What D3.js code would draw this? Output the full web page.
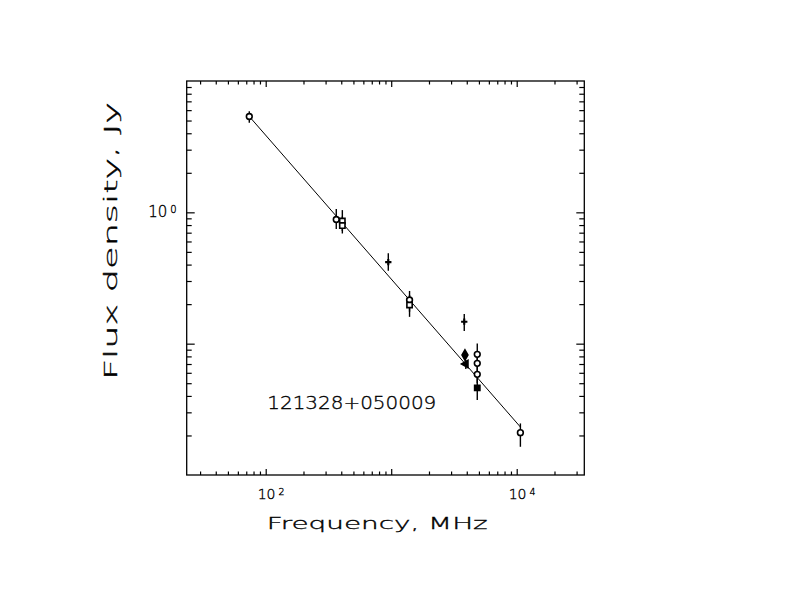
<!DOCTYPE html>
<html>
<head>
<meta charset="utf-8">
<script src="https://cdn.jsdelivr.net/npm/d3@7"></script>
<style>
  body { margin: 0; background: #fff; }
  text { font-family: "DejaVu Sans", sans-serif; font-weight: 200; fill: #000; stroke: #000; stroke-width: 0.35; }
</style>
</head>
<body>
<svg></svg>
<script>
// flux measurements, MHz and Jy
var freq   = [74, 365, 408, 408, 948, 1400, 1400, 3820, 3870, 3930, 4850, 4850, 4850, 4850, 10700];
var flux   = [5.37, 0.882, 0.858, 0.793, 0.418, 0.215, 0.197, 0.147, 0.0819, 0.070, 0.0829, 0.0708, 0.0584, 0.0461, 0.0210];
var fluxLo = [4.81, 0.746, 0.72, 0.69, 0.359, 0.175, 0.160, 0.125, 0.0819, 0.064, 0.072, 0.062, 0.050, 0.0372, 0.0164];
var fluxHi = [5.88, 1.06, 1.04, 0.93, 0.487, 0.252, 0.235, 0.168, 0.0819, 0.075, 0.1005, 0.080, 0.068, 0.055, 0.0247];
var marker = ['circle', 'circle', 'square', 'square', 'plus', 'circle', 'square', 'plus', 'diamond', 'triangle', 'circle', 'circle', 'circle', 'fsquare', 'circle'];

// fitted power law end points
var fitFreq = [74, 10700];
var fitFlux = [5.37, 0.0232];

var xLabelTicks = [100, 10000];
var yLabelTicks = [1];
var sourceName = '121328+050009';

var svg = d3.select('svg')
    .attr('width', 792)
    .attr('height', 612);

var frameL = 186.7, frameR = 584.3, frameT = 81, frameB = 475;

var x = d3.scaleLog().domain([23.47, 34560]).range([frameL, frameR]);
var y = d3.scaleLog().domain([0.01, 10]).range([frameB, frameT]);

function logTicks(scale, major) {
    var d = scale.domain(), out = [];
    for (var e = Math.floor(Math.log10(d[0])); e <= Math.ceil(Math.log10(d[1])); e++) {
        for (var m = 1; m < 10; m++) {
            var v = m * Math.pow(10, e);
            if (v < d[0] * 1.001 || v > d[1] * 0.999) continue;
            if ((m === 1) === major) out.push(v);
        }
    }
    return out;
}

var xMajor = logTicks(x, true), xMinor = logTicks(x, false);
var yMajor = logTicks(y, true), yMinor = logTicks(y, false);

function addAxis(axis, tx, ty) {
    var g = svg.append('g')
        .attr('transform', 'translate(' + tx + ',' + ty + ')')
        .call(axis.tickFormat(''));
    g.select('.domain').remove();
    g.selectAll('line').attr('stroke', '#000').attr('stroke-width', 1.2);
}

addAxis(d3.axisBottom(x).tickValues(xMajor).tickSize(-6), 0, frameB);
addAxis(d3.axisBottom(x).tickValues(xMinor).tickSize(-3.5), 0, frameB);
addAxis(d3.axisTop(x).tickValues(xMajor).tickSize(-6), 0, frameT);
addAxis(d3.axisTop(x).tickValues(xMinor).tickSize(-3.5), 0, frameT);
addAxis(d3.axisLeft(y).tickValues(yMajor).tickSize(-8), frameL, 0);
addAxis(d3.axisLeft(y).tickValues(yMinor).tickSize(-5), frameL, 0);
addAxis(d3.axisRight(y).tickValues(yMajor).tickSize(-8), frameR, 0);
addAxis(d3.axisRight(y).tickValues(yMinor).tickSize(-5), frameR, 0);

svg.append('rect')
    .attr('x', frameL).attr('y', frameT)
    .attr('width', frameR - frameL).attr('height', frameB - frameT)
    .attr('fill', 'none')
    .attr('stroke', '#000')
    .attr('stroke-width', 1.3);

// tick labels 10^n
xLabelTicks.forEach(function(v) {
    var t = svg.append('text')
        .attr('x', x(v) - 8)
        .attr('y', frameB + 24)
        .attr('font-size', 14);
    t.append('tspan').text('10');
    t.append('tspan')
        .attr('dx', 3).attr('dy', -4)
        .attr('font-size', 9.5)
        .text(Math.round(Math.log10(v)));
});

yLabelTicks.forEach(function(v) {
    var t = svg.append('text')
        .attr('x', frameL - 10)
        .attr('y', y(v) + 4.5)
        .attr('text-anchor', 'end')
        .attr('font-size', 15);
    t.append('tspan').text('10');
    t.append('tspan')
        .attr('dx', 3).attr('dy', -4)
        .attr('font-size', 10)
        .text(Math.round(Math.log10(v)));
});

// axis titles
svg.append('text')
    .attr('x', 266.7)
    .attr('y', 528.5)
    .attr('font-size', 16.5)
    .attr('textLength', 221)
    .attr('lengthAdjust', 'spacingAndGlyphs')
    .text('Frequency, MHz');

svg.append('text')
    .attr('transform', 'translate(117,380) rotate(-90)')
    .attr('font-size', 17)
    .attr('textLength', 278)
    .attr('lengthAdjust', 'spacingAndGlyphs')
    .text('Flux density, Jy');

svg.append('text')
    .attr('x', 267.3)
    .attr('y', 409.3)
    .attr('font-size', 18.5)
    .attr('textLength', 169)
    .attr('lengthAdjust', 'spacingAndGlyphs')
    .text(sourceName);

// fit line
var line = d3.line()
    .x(function(d) { return x(d[0]); })
    .y(function(d) { return y(d[1]); });

svg.append('path')
    .datum(d3.zip(fitFreq, fitFlux))
    .attr('d', line)
    .attr('fill', 'none')
    .attr('stroke', '#000')
    .attr('stroke-width', 1);

// error bars
var idx = d3.range(freq.length);

svg.append('g').selectAll('line')
    .data(idx)
    .join('line')
    .attr('x1', function(i) { return x(freq[i]); })
    .attr('x2', function(i) { return x(freq[i]); })
    .attr('y1', function(i) { return y(fluxLo[i]); })
    .attr('y2', function(i) { return y(fluxHi[i]); })
    .attr('stroke', '#000')
    .attr('stroke-width', 1.4);

// markers
var shapes = {
    circle:   { type: d3.symbolCircle,   size: 26, fill: '#fff' },
    square:   { type: d3.symbolSquare,   size: 28, fill: '#fff' },
    fsquare:  { type: d3.symbolSquare,   size: 28, fill: '#000' },
    diamond:  { type: d3.symbolDiamond,  size: 30, fill: '#000' },
    triangle: { type: d3.symbolTriangle, size: 24, fill: '#000' },
    plus:     { type: d3.symbolCross,    size: 22, fill: '#000' }
};

svg.append('g').selectAll('path')
    .data(idx)
    .join('path')
    .attr('transform', function(i) {
        var r = marker[i] === 'triangle' ? ' rotate(-90)' : '';
        return 'translate(' + x(freq[i]) + ',' + y(flux[i]) + ')' + r;
    })
    .attr('d', function(i) {
        var s = shapes[marker[i]];
        return d3.symbol().type(s.type).size(s.size)();
    })
    .attr('fill', function(i) { return shapes[marker[i]].fill; })
    .attr('stroke', '#000')
    .attr('stroke-width', function(i) { return marker[i] === 'plus' ? 0 : 1.6; });
</script>
</body>
</html>
